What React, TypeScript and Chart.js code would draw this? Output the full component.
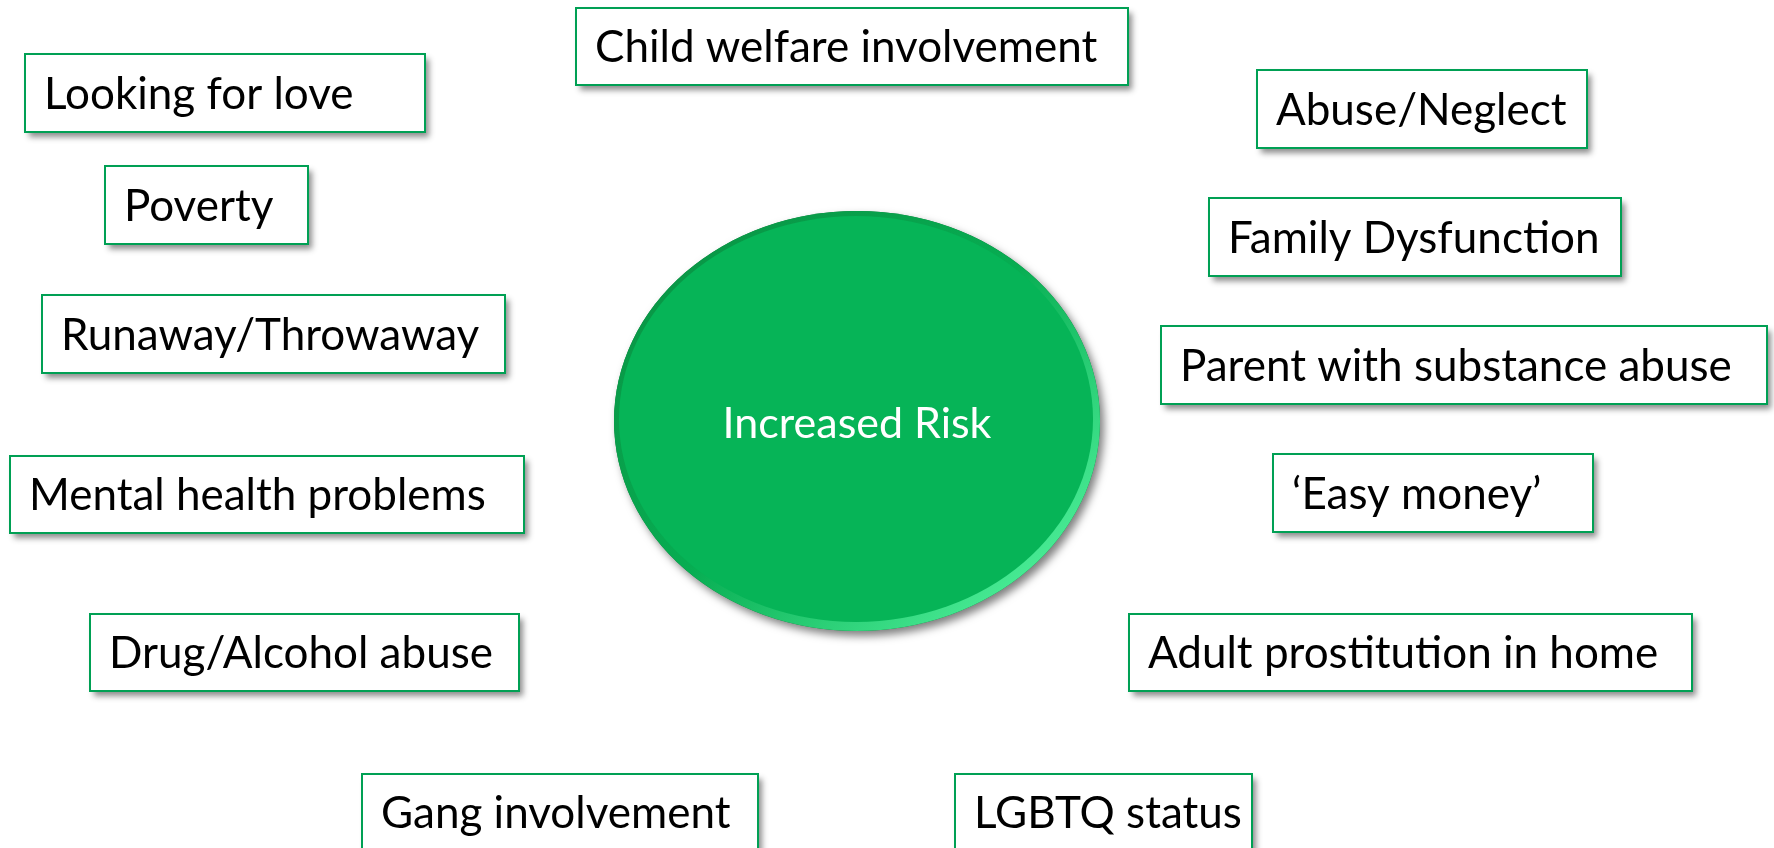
import React, { useEffect, useRef } from "react";
import { Chart, registerables } from "chart.js";

Chart.register(...registerables);

// Risk factors shown around the centre, with box extents in diagram units
const factorLabels = [
  "Looking for love",
  "Poverty",
  "Runaway/Throwaway",
  "Mental health problems",
  "Drug/Alcohol abuse",
  "Gang involvement",
  "Child welfare involvement",
  "Abuse/Neglect",
  "Family Dysfunction",
  "Parent with substance abuse",
  "\u2018Easy money\u2019",
  "Adult prostitution in home",
  "LGBTQ status",
];
const boxLeft = [25, 105, 42, 10, 90, 362, 576, 1257, 1209, 1161, 1273, 1129, 955];
const boxRight = [425, 308, 505, 524, 519, 758, 1128, 1587, 1621, 1767, 1593, 1692, 1252];
const boxTop = [54, 166, 295, 456, 614, 774, 8, 70, 198, 326, 454, 614, 774];
const boxBottom = [132, 244, 373, 533, 691, 851, 85, 148, 276, 404, 532, 691, 851];

const centerLabel = ["Increased Risk"];
const centerX = [857];
const centerY = [421];
const centerRadiusX = [243];
const centerRadiusY = [210];

const diagramPlugin = {
  id: "riskDiagram",
  afterDatasetsDraw(chart: any) {
    const ctx = chart.ctx as CanvasRenderingContext2D;
    const xs = chart.scales.x;
    const ys = chart.scales.y;

    // Centre ellipse
    for (let i = 0; i < centerLabel.length; i++) {
      const cx = xs.getPixelForValue(centerX[i]);
      const cy = ys.getPixelForValue(centerY[i]);
      const rx = Math.abs(xs.getPixelForValue(centerX[i] + centerRadiusX[i]) - cx);
      const ry = Math.abs(ys.getPixelForValue(centerY[i] + centerRadiusY[i]) - cy);
      ctx.save();
      ctx.shadowColor = "rgba(0,0,0,0.5)";
      ctx.shadowBlur = 8;
      ctx.shadowOffsetX = 4;
      ctx.shadowOffsetY = 5;
      ctx.beginPath();
      ctx.ellipse(cx, cy, rx, ry, 0, 0, Math.PI * 2);
      ctx.fillStyle = "#0a7a36";
      ctx.fill();
      ctx.restore();

      // bevel: darker rim top-left, lighter rim bottom-right
      ctx.save();
      ctx.beginPath();
      ctx.ellipse(cx, cy, rx, ry, 0, 0, Math.PI * 2);
      ctx.clip();
      const g = ctx.createLinearGradient(cx - rx, cy - ry, cx + rx * 0.6, cy + ry);
      g.addColorStop(0, "#0a8f42");
      g.addColorStop(0.55, "#07ad52");
      g.addColorStop(1, "#4ef09a");
      ctx.fillStyle = g;
      ctx.fillRect(cx - rx, cy - ry, rx * 2, ry * 2);
      ctx.beginPath();
      ctx.ellipse(cx - 1, cy - 2, rx - 6, ry - 7, 0, 0, Math.PI * 2);
      ctx.fillStyle = "#06b457";
      ctx.fill();
      ctx.restore();

      ctx.save();
      ctx.fillStyle = "#ffffff";
      ctx.font = "43px Lato, 'Liberation Sans', sans-serif";
      ctx.textAlign = "center";
      ctx.textBaseline = "alphabetic";
      ctx.fillText(centerLabel[i], cx, cy + 17);
      ctx.restore();
    }

    // Factor boxes
    for (let i = 0; i < factorLabels.length; i++) {
      const x1 = xs.getPixelForValue(boxLeft[i]);
      const x2 = xs.getPixelForValue(boxRight[i]);
      const y1 = ys.getPixelForValue(boxTop[i]);
      const y2 = ys.getPixelForValue(boxBottom[i]);
      const w = x2 - x1;
      const h = y2 - y1;
      ctx.save();
      ctx.shadowColor = "rgba(0,0,0,0.45)";
      ctx.shadowBlur = 6;
      ctx.shadowOffsetX = 4;
      ctx.shadowOffsetY = 5;
      ctx.fillStyle = "#ffffff";
      ctx.fillRect(x1, y1, w, h);
      ctx.restore();

      ctx.save();
      ctx.strokeStyle = "#00a054";
      ctx.lineWidth = 2;
      ctx.strokeRect(x1, y1, w, h);
      ctx.fillStyle = "#000000";
      ctx.font = "44px Lato, 'Liberation Sans', sans-serif";
      ctx.textAlign = "left";
      ctx.textBaseline = "alphabetic";
      ctx.fillText(factorLabels[i], x1 + 19, y1 + h / 2 + 15.5);
      ctx.restore();
    }
  },
};

export default function App() {
  const canvasRef = useRef<HTMLCanvasElement | null>(null);

  useEffect(() => {
    if (!canvasRef.current) return;
    const chart = new Chart(canvasRef.current, {
      type: "scatter",
      data: {
        datasets: [
          {
            label: "Factors",
            data: factorLabels.map((_, i) => ({ x: boxLeft[i], y: boxTop[i] })),
            pointRadius: 0,
          },
          {
            label: "Centre",
            data: centerLabel.map((_, i) => ({ x: centerX[i], y: centerY[i] })),
            pointRadius: 0,
          },
        ],
      },
      options: {
        animation: false,
        responsive: true,
        maintainAspectRatio: false,
        devicePixelRatio: 1,
        layout: { padding: 0 },
        events: [],
        plugins: {
          legend: { display: false },
          tooltip: { enabled: false },
          title: { display: false },
        },
        scales: {
          x: { type: "linear", min: 0, max: 1774, display: false },
          y: { type: "linear", min: 0, max: 848, reverse: true, display: false },
        },
      },
      plugins: [diagramPlugin],
    });
    return () => chart.destroy();
  }, []);

  return (
    <div
      style={{
        position: "fixed",
        left: 0,
        top: 0,
        width: "1774px",
        height: "848px",
        background: "#ffffff",
      }}
    >
      <canvas ref={canvasRef} />
    </div>
  );
}
